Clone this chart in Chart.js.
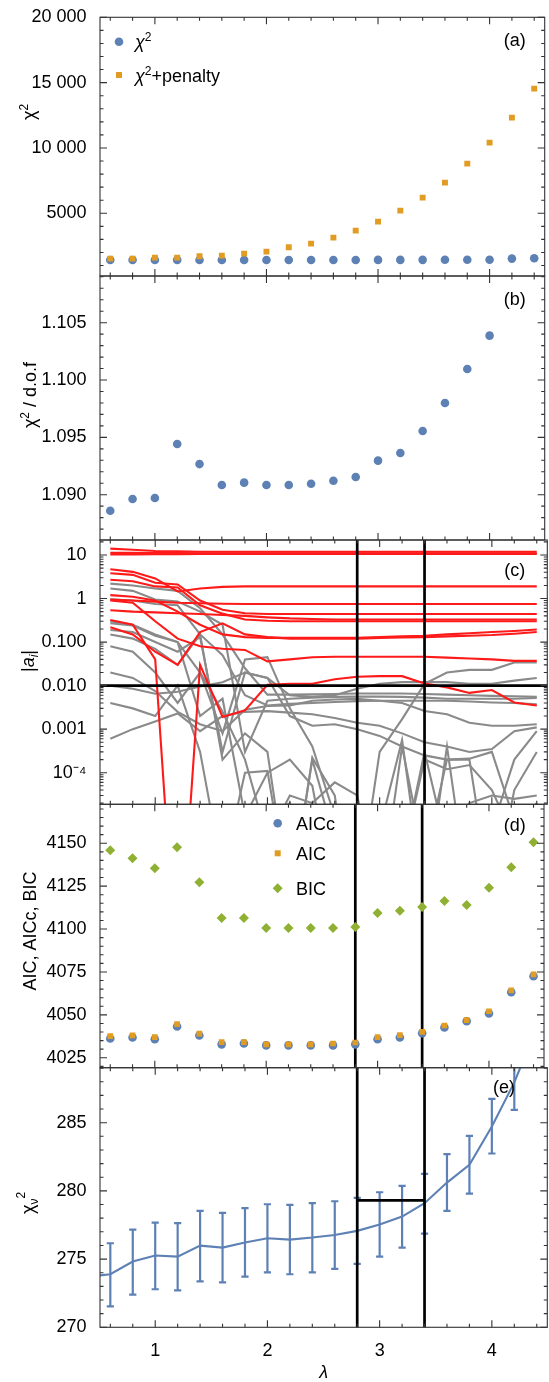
<!DOCTYPE html>
<html>
<head>
<meta charset="utf-8">
<script src="https://cdn.jsdelivr.net/npm/chart.js@4.4.1/dist/chart.umd.min.js"></script>
<style>
  html, body { margin: 0; padding: 0; background: #fff; }
  #wrap { position: relative; width: 549px; height: 1382px; }
  #wrap canvas { position: absolute; left: 0; top: 0; }
</style>
</head>
<body>
<div id="wrap">
  <canvas id="a" width="549" height="1382"></canvas>
  <canvas id="b" width="549" height="1382"></canvas>
  <canvas id="c" width="549" height="1382"></canvas>
  <canvas id="d" width="549" height="1382"></canvas>
  <canvas id="e" width="549" height="1382"></canvas>
</div>
<script>
// ===== Data =====
var lambda = [0.6, 0.8, 1.0, 1.2, 1.4, 1.6, 1.8, 2.0, 2.2, 2.4, 2.6, 2.8, 3.0, 3.2, 3.4, 3.6, 3.8, 4.0, 4.2, 4.4];

// (a)
var chi2    = [1426, 1427, 1428, 1434, 1431, 1429, 1429, 1429, 1429, 1429, 1429, 1430, 1432, 1433, 1435, 1438, 1442, 1446, 1531, 1556];
var chi2Pen = [1531, 1531, 1607, 1607, 1709, 1760, 1913, 2066, 2398, 2679, 3138, 3673, 4362, 5204, 6199, 7347, 8801, 10408, 12321, 14541];

// (b)  last two are above the plot range
var chi2Dof = [1.08860, 1.08962, 1.08971, 1.09442, 1.09267, 1.09084, 1.09105, 1.09084, 1.09084, 1.09096,
               1.09122, 1.09154, 1.09297, 1.09363, 1.09555, 1.09799, 1.10096, 1.10387, null, null];

// (c) |a_i| per coefficient, red = kept, gray = dropped
var redCoeffs = [
  [14, 13.2, 12.4, 12.1, 11.9, 11.9, 11.9, 11.9, 11.9, 11.9, 11.9, 11.9, 11.9, 11.9, 11.9, 11.9, 11.9, 11.9, 11.9, 11.9],
  [11.2, 11.2, 11.1, 11.1, 11, 11, 11, 11, 11, 11, 11, 11, 11, 11, 11, 11, 11, 11, 11, 11],
  [10.3, 10.3, 10.4, 10.4, 10.5, 10.5, 10.5, 10.5, 10.5, 10.5, 10.5, 10.5, 10.5, 10.5, 10.5, 10.5, 10.5, 10.5, 10.5, 10.5],
  [4.7, 4.1, 2.9, 1.45, 1.7, 1.85, 1.9, 1.9, 1.9, 1.9, 1.9, 1.9, 1.9, 1.9, 1.9, 1.9, 1.9, 1.9, 1.9, 1.9],
  [0.95, 0.9, 0.85, 0.8, 0.78, 0.76, 0.75, 0.75, 0.75, 0.75, 0.75, 0.75, 0.75, 0.75, 0.75, 0.75, 0.75, 0.75, 0.75, 0.75],
  [3.8, 3.5, 2.3, 2.1, 0.9, 0.55, 0.46, 0.44, 0.44, 0.44, 0.44, 0.44, 0.44, 0.44, 0.44, 0.44, 0.44, 0.44, 0.44, 0.44],
  [0.54, 0.5, 0.48, 0.46, 0.44, 0.42, 0.4, 0.37, 0.35, 0.34, 0.33, 0.33, 0.33, 0.33, 0.33, 0.33, 0.33, 0.33, 0.33, 0.33],
  [2.7, 2.5, 1.9, 1.8, 0.7, 0.45, 0.33, 0.31, 0.3, 0.3, 0.3, 0.3, 0.3, 0.3, 0.3, 0.3, 0.3, 0.3, 0.3, 0.3],
  [1.2, 1.1, 0.9, 0.5, 0.25, 0.15, 0.13, 0.125, 0.125, 0.125, 0.125, 0.125, 0.13, 0.135, 0.14, 0.15, 0.16, 0.17, 0.18, 0.195],
  [0.32, 0.25, 0.04, 1e-9, 0.03, 0.0019, 0.0027, 0.0105, 0.011, 0.011, 0.014, 0.016, 0.0165, 0.0165, 0.0112, 0.0091, 0.0068, 0.0079, 0.0041, 0.0035],
  [0.9, 0.8, 0.3, 0.12, 0.08, 0.07, 0.066, 0.036, 0.04, 0.045, 0.046, 0.046, 0.046, 0.046, 0.046, 0.044, 0.042, 0.04, 0.037, 0.037],
  [0.22, 0.15, 0.06, 0.03, 0.17, 0.27, 0.15, 0.13, 0.12, 0.12, 0.12, 0.12, 0.125, 0.128, 0.13, 0.135, 0.14, 0.145, 0.155, 0.17]
];
var grayCoeffs = [
  [2.2, 2.0, 1.7, 1.5, 0.6, 0.15, 0.025, 0.0062, 0.0062, 0.0063, 0.0064, 0.0066, 0.0066, 0.0066, 0.0064, 0.0062, 0.006, 0.0058, 0.0057, 0.0055],
  [1.7, 1.5, 0.95, 0.85, 0.5, 0.25, 0.0003, 0.0045, 0.005, 0.0053, 0.0055, 0.0056, 0.0056, 0.0055, 0.0053, 0.005, 0.005, 0.005, 0.005, 0.0052],
  [0.96, 0.9, 0.75, 0.7, 0.15, 0.05, 0.006, 0.0035, 0.0038, 0.004, 0.0042, 0.0044, 0.0045, 0.0045, 0.0045, 0.0045, 0.0043, 0.0041, 0.004, 0.0037],
  [0.27, 0.24, 0.14, 0.1, 0.02, 0.0008, 0.04, 0.045, 0.003, 4e-4, 1e-5, 1e-7, 3e-4, 0.0017, 0.011, 0.02, 0.023, 0.023, 0.034, 0.034],
  [0.19, 0.17, 0.1, 0.06, 0.13, 0.0003, 0.02, 0.015, 0.002, 0.0012, 0.0013, 0.001, 0.0007, 0.0004, 0.00025, 0.0002, 0.00021, 0.0003, 8e-6, 1e-6],
  [0.0006, 0.001, 0.0015, 0.0023, 0.0009, 0.002, 0.0025, 0.0026, 0.0024, 0.0022, 0.0018, 0.0014, 0.0012, 0.0008, 0.0005, 0.0004, 0.0003, 0.00035, 0.0009, 0.0011],
  [0.02, 0.015, 0.0075, 0.0025, 0.0013, 0.0009, 0.0028, 0.0034, 0.0035, 0.0045, 0.0048, 0.005, 0.0045, 0.004, 0.0026, 0.0022, 0.0014, 0.0012, 0.0012, 0.0013],
  [0.01, 0.0085, 0.0065, 0.0072, 0.0095, 0.012, 0.02, 0.015, 0.006, 0.0055, 0.006, 0.0085, 0.011, 0.012, 0.012, 0.012, 0.011, 0.011, 0.013, 0.015],
  [0.15, 0.12, 0.07, 0.03, 0.15, 0.0002, 0.0008, 0.0003, 1e-7, 2e-4, 3e-6, 1e-7, 1e-8, 1e-6, 3e-4, 2e-6, 1e-7, 5e-6, 2e-4, 9e-4],
  [0.3, 0.25, 0.15, 0.1, 0.002, 0.005, 1e-5, 1e-4, 2e-4, 5e-5, 1e-7, 5e-6, 1e-7, 4e-4, 1e-6, 2e-4, 2e-4, 1e-7, 1e-6, 2e-5],
  [0.004, 0.003, 0.002, 0.01, 0.0003, 5e-7, 1e-4, 1.1e-4, 1e-7, 2.2e-4, 3e-5, 1e-8, 5e-6, 5.6e-4, 1e-7, 4e-4, 1e-7, 1e-7, 4e-5, 3e-4],
  [0.08, 0.06, 0.02, 0.004, 0.02, 0.0025, 0.0002, 3e-6, 3e-5, 2e-5, 6e-5, 3e-5, 1e-7, 1e-6, 2e-4, 1.2e-4, 1.5e-4, 4e-5, 3e-6, 2e-5],
  [1e-8, 1e-8, 1e-7, 1e-6, 1e-5, 1e-8, 1e-6, 1e-5, 2e-5, 1e-8, 1e-7, 1e-6, 2e-6, 1e-6, 1e-7, 5e-6, 2e-5, 3e-5, 2.5e-5, 3e-5]
];
var coeffCut = 0.01;

// (d)
var aicc = [4036.2, 4036.8, 4035.8, 4043.2, 4038.0, 4032.8, 4033.3, 4032.2, 4032.2, 4032.2, 4032.2, 4032.8, 4035.8, 4036.8, 4039.3, 4042.6, 4046.3, 4050.8, 4063.2, 4072.5];
var aic  = [4037.6, 4038.0, 4037.0, 4044.6, 4039.1, 4034.1, 4034.1, 4032.8, 4032.8, 4032.8, 4033.3, 4033.9, 4037.0, 4038.2, 4040.1, 4043.8, 4046.9, 4052.1, 4064.3, 4073.6];
var bic  = [4145.9, 4141.3, 4135.5, 4147.7, 4127.3, 4106.4, 4106.4, 4100.6, 4100.6, 4100.6, 4100.6, 4101.2, 4109.3, 4110.7, 4112.8, 4116.3, 4114.0, 4124.0, 4136.0, 4150.6];

// (e) chi_nu^2 with error bars
var lambdaE = [0.4, 0.6, 0.8, 1.0, 1.2, 1.4, 1.6, 1.8, 2.0, 2.2, 2.4, 2.6, 2.8, 3.0, 3.2, 3.4, 3.6, 3.8, 4.0, 4.2, 4.4];
var chiNu   = [273.7, 273.89, 274.82, 275.26, 275.18, 275.99, 275.84, 276.21, 276.53, 276.43, 276.58, 276.77, 277.07, 277.53, 278.12, 279.10, 280.61, 281.91, 284.72, 287.95, 292.0];
var chiNuLo = [271.4, 271.54, 272.40, 272.79, 272.71, 273.37, 273.30, 273.72, 274.03, 273.89, 274.03, 274.28, 274.65, 275.18, 275.84, 276.87, 278.53, 279.80, 282.74, 285.94, 289.6];
var chiNuHi = [276.0, 276.16, 277.16, 277.68, 277.63, 278.53, 278.39, 278.73, 279.02, 278.97, 279.10, 279.24, 279.49, 279.90, 280.37, 281.25, 282.69, 284.03, 286.75, 290.0, 294.4];
var chiNuCut = 279.3;

// chosen lambda window
var lambdaCuts = [2.8, 3.4];

// ticks
var xTicks  = [1, 2, 3, 4];
var ticksA  = [5000, 10000, 15000, 20000];
var labelsA = ['5000', '10 000', '15 000', '20 000'];
var ticksB  = [1.090, 1.095, 1.100, 1.105];
var labelsB = ['1.090', '1.095', '1.100', '1.105'];
var ticksC  = [1e-4, 1e-3, 1e-2, 1e-1, 1, 10];
var labelsC = ['10\u207B\u2074', '0.001', '0.010', '0.100', '1', '10'];
var ticksD  = [4025, 4050, 4075, 4100, 4125, 4150];
var labelsD = ['4025', '4050', '4075', '4100', '4125', '4150'];
var ticksE  = [270, 275, 280, 285];
var labelsE = ['270', '275', '280', '285'];

// ===== Style / layout =====
var FONT = "'Liberation Sans', Arial, sans-serif";
var BLUE = '#5E81B5', ORANGE = '#E19C24', GREEN = '#8FB032';
var RED = '#ff1a1a', GRAY = '#8a8a8a', FRAME = '#333';
var W = 549, H = 1382;
var PLOT_L = 100, PLOT_R = 547.3;
var X_MIN = 0.508, X_MAX = 4.494;

Chart.defaults.font.family = FONT;
Chart.defaults.font.size = 18;
Chart.defaults.color = '#000';

var PANELS = {
  a: { top: 17.3, bottom: 276, min: 200, max: 20000, minor: 1000, ticks: ticksA, labels: labelsA,
       title: [{t: '\u03C7'}, {t: '2', s: 12, dy: -7}], tx: 28, ty: 112, letter: '(a)', ly: 39.3 },
  b: { top: 276, bottom: 540, min: 1.08605, max: 1.10907, minor: 0.001, ticks: ticksB, labels: labelsB,
       title: [{t: '\u03C7'}, {t: '2', s: 12, dy: -7}, {t: ' / d.o.f'}], tx: 29, ty: 395, letter: '(b)', ly: 298.3 },
  c: { top: 540, bottom: 804.3, min: 1.88e-5, max: 22.1, log: true, ticks: ticksC, labels: labelsC,
       title: [{t: '|'}, {t: 'a', it: true}, {t: 'i', it: true, s: 12, dy: 4}, {t: '|'}], tx: 27, ty: 661, letter: '(c)', ly: 569.3, cuts: 'above' },
  d: { top: 804.3, bottom: 1067.7, min: 4019.2, max: 4172.7, minor: 5, ticks: ticksD, labels: labelsD,
       title: [{t: 'AIC, AICc, BIC'}], tx: 29, ty: 931, letter: '(d)', ly: 824, cuts: 'below' },
  e: { top: 1067.7, bottom: 1327.3, min: 270, max: 289.03, minor: 1, ticks: ticksE, labels: labelsE,
       title: [{t: '\u03C7'}, {t: '\u03BD', s: 12, dy: 4}, {t: '2', s: 12, dy: -9}], tx: 27, ty: 1203, letter: '(e)', lx: 504, ly: 1086.7, cuts: 'above' }
};

function pts(xs, ys) {
  var out = [];
  for (var i = 0; i < xs.length; i++) if (ys[i] != null) out.push({ x: xs[i], y: ys[i] });
  return out;
}

function fontOf(q) { return (q.it ? 'italic ' : '') + (q.s || 18) + 'px ' + FONT; }

// rich text with sub/superscripts, optionally rotated
function rich(ctx, parts, x, y, rot, left) {
  ctx.save();
  ctx.translate(x, y);
  if (rot) ctx.rotate(-Math.PI / 2);
  var w = 0, widths = [];
  parts.forEach(function(q) { ctx.font = fontOf(q); var m = ctx.measureText(q.t).width; widths.push(m); w += m; });
  var cx = left ? 0 : -w / 2;
  ctx.fillStyle = '#000';
  ctx.textBaseline = 'alphabetic';
  parts.forEach(function(q, i) { ctx.font = fontOf(q); ctx.fillText(q.t, cx, 6.5 + (q.dy || 0)); cx += widths[i]; });
  ctx.restore();
}

function marker(ctx, style, color, x, y) {
  ctx.save();
  ctx.fillStyle = color;
  ctx.beginPath();
  if (style === 'circle') ctx.arc(x, y, 4.3, 0, Math.PI * 2);
  else if (style === 'rect') ctx.rect(x - 3, y - 3, 6, 6);
  else { ctx.moveTo(x - 5, y); ctx.lineTo(x, y - 5); ctx.lineTo(x + 5, y); ctx.lineTo(x, y + 5); ctx.closePath(); }
  ctx.fill();
  ctx.restore();
}

function drawCuts(chart, id) {
  var ctx = chart.ctx, a = chart.chartArea, xs = chart.scales.x, ys = chart.scales.y;
  ctx.save();
  ctx.strokeStyle = '#000';
  ctx.lineWidth = 2.7;
  ctx.beginPath();
  lambdaCuts.forEach(function(l) {
    var x = xs.getPixelForValue(l);
    ctx.moveTo(x, a.top); ctx.lineTo(x, a.bottom);
  });
  if (id === 'c') {
    var y = ys.getPixelForValue(coeffCut);
    ctx.moveTo(a.left, y); ctx.lineTo(a.right, y);
  }
  if (id === 'e') {
    var y2 = ys.getPixelForValue(chiNuCut);
    ctx.moveTo(xs.getPixelForValue(lambdaCuts[0]), y2); ctx.lineTo(xs.getPixelForValue(lambdaCuts[1]), y2);
  }
  ctx.stroke();
  ctx.restore();
}

function drawErrorBars(chart) {
  var ctx = chart.ctx, a = chart.chartArea, xs = chart.scales.x, ys = chart.scales.y;
  ctx.save();
  ctx.beginPath();
  ctx.rect(a.left, a.top, a.right - a.left, a.bottom - a.top);
  ctx.clip();
  ctx.strokeStyle = BLUE;
  ctx.lineWidth = 2.2;
  ctx.beginPath();
  lambdaE.forEach(function(l, i) {
    var x = xs.getPixelForValue(l);
    var y0 = ys.getPixelForValue(chiNuLo[i]), y1 = ys.getPixelForValue(chiNuHi[i]);
    ctx.moveTo(x, y0); ctx.lineTo(x, y1);
    ctx.moveTo(x - 3.6, y0); ctx.lineTo(x + 3.6, y0);
    ctx.moveTo(x - 3.6, y1); ctx.lineTo(x + 3.6, y1);
  });
  ctx.stroke();
  ctx.restore();
}

function drawFrame(chart, p) {
  var ctx = chart.ctx, a = chart.chartArea, xs = chart.scales.x, ys = chart.scales.y;
  ctx.save();
  ctx.strokeStyle = FRAME;
  ctx.lineWidth = 1.1;
  ctx.strokeRect(a.left, a.top, a.right - a.left, a.bottom - a.top);
  ctx.beginPath();
  function xt(v, len) {
    var x = xs.getPixelForValue(v);
    ctx.moveTo(x, a.bottom); ctx.lineTo(x, a.bottom - len);
    ctx.moveTo(x, a.top); ctx.lineTo(x, a.top + len);
  }
  function yt(v, len) {
    var y = ys.getPixelForValue(v);
    if (y < a.top - 0.5 || y > a.bottom + 0.5) return;
    ctx.moveTo(a.left, y); ctx.lineTo(a.left + len, y);
    ctx.moveTo(a.right, y); ctx.lineTo(a.right - len, y);
  }
  xTicks.forEach(function(v) { xt(v, 7); });
  for (var k = 3; k <= 22; k++) if (k % 5 !== 0) xt(k / 5, 3.5);
  p.ticks.forEach(function(v) { yt(v, 7); });
  if (p.log) {
    for (var e = -5; e <= 1; e++) for (var m = 2; m <= 9; m++) {
      var v = m * Math.pow(10, e);
      if (v > p.min && v < p.max) yt(v, 3.5);
    }
  } else {
    var n0 = Math.ceil(p.min / p.minor - 1e-9), n1 = Math.floor(p.max / p.minor + 1e-9);
    for (var n = n0; n <= n1; n++) {
      var val = n * p.minor;
      var isMajor = p.ticks.some(function(t) { return Math.abs(t - val) < p.minor * 0.01; });
      if (!isMajor) yt(val, 3.5);
    }
  }
  ctx.stroke();
  ctx.restore();
}

var decoPlugin = {
  id: 'deco',
  beforeDatasetsDraw: function(chart) {
    var id = chart.canvas.id;
    if (PANELS[id].cuts === 'below') drawCuts(chart, id);
  },
  afterDatasetsDraw: function(chart) {
    var id = chart.canvas.id;
    if (id === 'e') drawErrorBars(chart);
    if (PANELS[id].cuts === 'above') drawCuts(chart, id);
  },
  afterDraw: function(chart) {
    var id = chart.canvas.id, p = PANELS[id], ctx = chart.ctx;
    drawFrame(chart, p);
    rich(ctx, p.title, p.tx, p.ty, true);
    rich(ctx, [{t: p.letter}], p.lx || 514.7, p.ly, false);
    if (id === 'a') {
      marker(ctx, 'circle', BLUE, 119, 41.7);
      rich(ctx, [{t: '\u03C7', it: true}, {t: '2', s: 12, dy: -7}], 135, 41.7, false, true);
      marker(ctx, 'rect', ORANGE, 119, 75);
      rich(ctx, [{t: '\u03C7', it: true}, {t: '2', s: 12, dy: -7}, {t: '+penalty'}], 135, 75, false, true);
    }
    if (id === 'd') {
      marker(ctx, 'circle', BLUE, 277.7, 823.3);
      rich(ctx, [{t: 'AICc'}], 296, 823.3, false, true);
      marker(ctx, 'rect', ORANGE, 277.7, 853.3);
      rich(ctx, [{t: 'AIC'}], 296, 853.3, false, true);
      marker(ctx, 'diamond', GREEN, 277.7, 888.3);
      rich(ctx, [{t: 'BIC'}], 296, 888.3, false, true);
    }
  }
};

function yScale(p) {
  return {
    type: p.log ? 'logarithmic' : 'linear',
    min: p.min, max: p.max,
    grid: { display: false },
    border: { display: false },
    afterFit: function(s) { s.width = PLOT_L; },
    afterBuildTicks: function(s) { s.ticks = p.ticks.map(function(v) { return { value: v }; }); },
    ticks: { padding: 5.5, autoSkip: false, font: { size: 18 }, callback: function(v, i) { return p.labels[i]; } }
  };
}

function xScale(show) {
  if (!show) return { type: 'linear', min: X_MIN, max: X_MAX, display: false };
  return {
    type: 'linear', min: X_MIN, max: X_MAX,
    grid: { display: false },
    border: { display: false },
    afterFit: function(s) { s.height = H - PANELS.e.bottom; },
    afterBuildTicks: function(s) { s.ticks = xTicks.map(function(v) { return { value: v }; }); },
    ticks: { padding: 5, autoSkip: false, maxRotation: 0, font: { size: 18 }, callback: function(v) { return String(v); } },
    title: { display: true, text: '\u03BB', font: { size: 18, style: 'italic', lineHeight: 1 }, padding: { top: 0, bottom: 0 } }
  };
}

function makeChart(id, datasets) {
  var p = PANELS[id];
  var isE = id === 'e';
  return new Chart(document.getElementById(id), {
    type: 'scatter',
    data: { datasets: datasets },
    options: {
      responsive: false,
      animation: false,
      devicePixelRatio: 1,
      events: [],
      layout: { padding: { left: 0, right: W - PLOT_R, top: p.top, bottom: isE ? 0 : H - p.bottom } },
      plugins: { legend: { display: false }, tooltip: { enabled: false } },
      scales: { x: xScale(isE), y: yScale(p) }
    },
    plugins: [decoPlugin]
  });
}

function pointSet(ys, style, color, radius, order) {
  return { data: pts(lambda, ys), pointStyle: style, pointRadius: radius, pointBackgroundColor: color,
           pointBorderWidth: 0, showLine: false, order: order, clip: 0 };
}

function lineSet(xs, ys, color, width, order) {
  return { data: pts(xs, ys), showLine: true, borderColor: color, borderWidth: width, pointRadius: 0,
           tension: 0, order: order, clip: 0 };
}

makeChart('a', [
  pointSet(chi2, 'circle', BLUE, 4.3, 1),
  pointSet(chi2Pen, 'rect', ORANGE, 4.2, 0)
]);

makeChart('b', [
  pointSet(chi2Dof, 'circle', BLUE, 4.3, 0)
]);

makeChart('c',
  grayCoeffs.map(function(arr) { return lineSet(lambda, arr, GRAY, 2.1, 1); })
    .concat(redCoeffs.map(function(arr) { return lineSet(lambda, arr, RED, 2.1, 0); }))
);

makeChart('d', [
  pointSet(aicc, 'circle', BLUE, 4.3, 1),
  pointSet(aic, 'rect', ORANGE, 4.0, 0),
  pointSet(bic, 'rectRot', GREEN, 5.0, 2)
]);

makeChart('e', [
  lineSet(lambdaE, chiNu, BLUE, 2.1, 0)
]);
</script>
</body>
</html>
